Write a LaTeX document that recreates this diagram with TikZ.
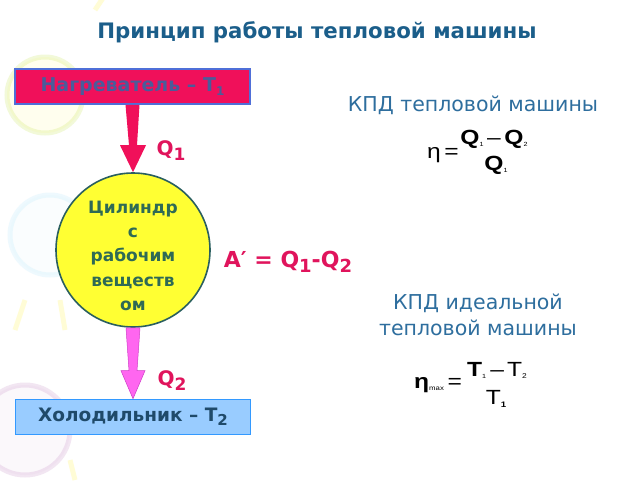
\documentclass[tikz,border=0pt]{standalone}
\usepackage{fontspec}
\usepackage{graphicx}
\setmainfont{DejaVu Sans}
\newfontfamily\arialf{Liberation Sans}
\usetikzlibrary{calc}
\definecolor{titleblue}{HTML}{1B5E8A}
\definecolor{crim}{HTML}{F0105A}
\definecolor{qred}{HTML}{E0145C}
\definecolor{heatborder}{HTML}{4F6FD8}
\definecolor{heattext}{HTML}{4A5C9A}
\definecolor{yel}{HTML}{FFFF33}
\definecolor{cylborder}{HTML}{2A5F5F}
\definecolor{cyltext}{HTML}{2F6A55}
\definecolor{mag}{HTML}{FF66F0}
\definecolor{magborder}{HTML}{D040C8}
\definecolor{coldfill}{HTML}{99CCFF}
\definecolor{coldborder}{HTML}{3399FF}
\definecolor{coldtext}{HTML}{1F4A6A}
\definecolor{kpd}{HTML}{2E6E9E}
% #1 size, #2 drop, #3 text
\newcommand{\lowsub}[3]{\raisebox{-#2}{\fontsize{#1}{#1}\selectfont #3}}
\newcommand{\wide}[1]{\scalebox{1.2}[1]{#1}}
\tikzset{
  boxstyle/.style={rectangle, minimum width=235pt, minimum height=35pt, line width=1.6pt, inner sep=0pt},
  qlabel/.style={font=\bfseries\fontsize{20}{22}\selectfont, text=qred},
  kpdtext/.style={font=\fontsize{20.5}{26}\selectfont, text=kpd, align=center},
  formula/.style={font=\arialf\fontsize{20.5}{20}\selectfont, text=black, inner sep=0pt},
  deco/.style={line width=5pt, opacity=0.16}
}
\begin{document}
\begin{tikzpicture}[x=1pt,y=-1pt]
\useasboundingbox (0,0) rectangle (640,480);
\fill[white] (0,0) rectangle (640,480);
% faint background balloons
\draw[deco, draw=yellow!70!green, fill=yellow!40] (45,95) circle (38);
\draw[deco, draw=cyan!40, fill=cyan!10] (50,235) circle (40);
\draw[deco, draw=violet!60, fill=violet!15] (25,430) circle (45);
\draw[deco, draw=yellow] (95,10) -- (105,-5);
\draw[deco, draw=yellow] (25,300) -- (15,330);
\draw[deco, draw=yellow] (60,300) -- (65,330);
\draw[deco, draw=yellow] (70,460) -- (75,480);
% title
\node (title) at (317,32) {\textcolor{titleblue}{\bfseries\fontsize{21.3}{24}\selectfont Принцип работы тепловой машины}};
% heater
\node[boxstyle, fill=crim, draw=heatborder] (heat) at (132.5,86.5)
  {\textcolor{heattext}{\bfseries\fontsize{19}{20}\selectfont Нагреватель – T\lowsub{12}{4pt}{1}}};
% cylinder
\node[circle, fill=yel, draw=cylborder, line width=1.6pt, minimum size=154pt, inner sep=0pt,
  align=center, text=cyltext, font=\bfseries\fontsize{17}{24.2}\selectfont] (cyl) at (133,250)
  {\rule{0pt}{6pt}\\[-6pt]Цилиндр\\с\\рабочим\\веществ\\ом};
% cold
\node[boxstyle, fill=coldfill, draw=coldborder] (cold) at (133,417)
  {\textcolor{coldtext}{\bfseries\fontsize{18.5}{20}\selectfont Холодильник – T\lowsub{15}{4pt}{2}}};
% upper arrow
\fill[crim] ($(heat.south)+(-7,0)$) -- ($(heat.south)+(7,0)$) -- ($(cyl.north)+(4,-27)$)
  -- ($(cyl.north)+(13,-27)$) -- (cyl.north) -- ($(cyl.north)+(-13,-27)$) -- ($(cyl.north)+(-4,-27)$) -- cycle;
% lower arrow
\filldraw[fill=mag, draw=magborder, line width=0.5pt] ($(cyl.south)+(-7,0)$) -- ($(cyl.south)+(7,0)$) -- ($(cold.north)+(4,-28)$)
  -- ($(cold.north)+(12,-28)$) -- (cold.north) -- ($(cold.north)+(-12,-28)$) -- ($(cold.north)+(-4,-28)$) -- cycle;
% labels
\node[qlabel] (q1) at (171,151) {Q\lowsub{17}{5pt}{1}};
\node[qlabel] (q2) at (172,381) {Q\lowsub{17}{5pt}{2}};
\node[qlabel, font=\bfseries\fontsize{22}{24}\selectfont] (work) at (288,262) {A′ = Q\lowsub{18}{5pt}{1}-Q\lowsub{18}{5pt}{2}};
% KPD texts
\node[kpdtext] (kpd1) at (473,105) {КПД тепловой машины};
\node[kpdtext] (kpd2) at (478,315) {КПД идеальной\\тепловой машины};
% formula 1
\node[formula, anchor=west] (eta) at (427,155) {\wide{η\hspace{3pt}=}};
\node[formula] (num1) at (494,139) {\wide{\textbf{Q}\lowsub{6}{2pt}{1}\hspace{3pt}–\hspace{3pt}\textbf{Q}\lowsub{6}{2pt}{2}}};
\node[formula] (den1) at (496,165) {\wide{\textbf{Q}\lowsub{6}{2pt}{1}}};
% formula 2
\node[formula, anchor=west] (etamax) at (414,385) {\wide{\textbf{η}\lowsub{6.5}{2pt}{max}\hspace{3pt}=}};
\node[formula] (num2) at (497,370) {\wide{\textbf{T}\lowsub{6}{2pt}{1}\hspace{3.5pt}–\hspace{2.5pt}T\lowsub{7}{2pt}{2}}};
\node[formula] (den2) at (496,399) {\wide{T\lowsub{8}{3pt}{\textbf{1}}}};
\end{tikzpicture}
\end{document}
